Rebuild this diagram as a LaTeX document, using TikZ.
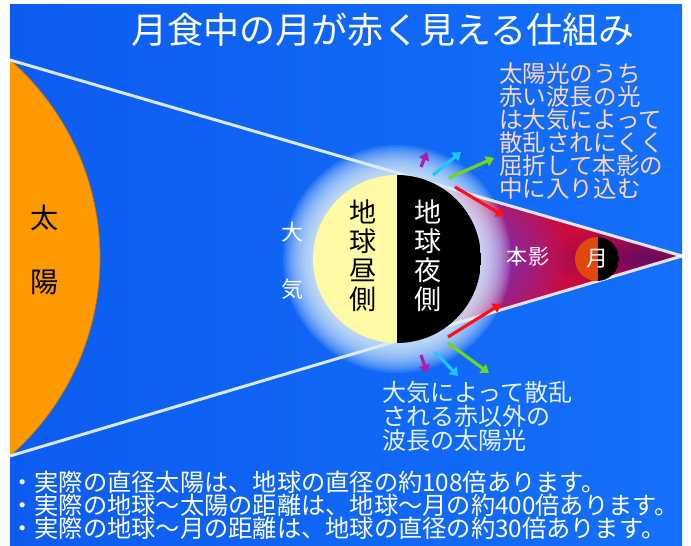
\documentclass[tikz,border=0pt]{standalone}
\usepackage{fontspec}
\setmainfont{Noto Sans CJK JP}
\usetikzlibrary{arrows.meta,fadings}

\definecolor{bgleft}{RGB}{12,92,240}
\definecolor{bgright}{RGB}{20,112,250}
\definecolor{sunorange}{RGB}{255,153,0}
\definecolor{dayside}{RGB}{255,250,165}
\definecolor{moonred}{RGB}{225,70,15}
\definecolor{umbra}{RGB}{205,10,60}
\definecolor{umbradark}{RGB}{100,10,100}
\definecolor{umbraviolet}{RGB}{105,55,210}
\definecolor{haloblue}{RGB}{225,242,255}
\definecolor{peach}{RGB}{255,214,190}
\definecolor{paleblue}{RGB}{228,242,255}
\definecolor{arrpurple}{RGB}{170,30,170}
\definecolor{arrcyan}{RGB}{30,200,255}
\definecolor{arrgreen}{RGB}{110,215,30}
\definecolor{arrred}{RGB}{255,15,25}

\tikzfading[name=fadeout, inner color=transparent!0, outer color=transparent!100]

\begin{document}
\begin{tikzpicture}[x=0.02cm, y=-0.02cm,
  ray/.style={white, opacity=0.85, line width=1.7pt},
  light/.style={-{Triangle[length=4.5pt,width=6pt]}, line width=1.8pt},
  jtext/.style={inner sep=0pt, align=left},
  vtext/.style={inner sep=0pt, align=center}]
  \useasboundingbox (0,0) rectangle (691,546);

  % Background and sun
  \coordinate (sun) at (-163,258);
  \coordinate (earth) at (397,259);
  \coordinate (moon) at (597,259);
  \coordinate (sunTop) at (10,60);
  \coordinate (sunBot) at (10,456);
  \coordinate (apex) at (682,256);
  \begin{scope}
    \clip (10,5) rectangle (682,546);
    \shade[left color=bgleft, right color=bgright] (10,5) rectangle (682,546);
    \fill[sunorange, draw=sunorange!75!black, line width=0.4pt] (sun) circle (263);

    % Umbra behind the earth
    \begin{scope}
      \clip (397,174) -- (apex) -- (397,342) -- cycle;
      \fill[umbra] (397,174) -- (apex) -- (397,342) -- cycle;
      \fill[umbradark, path fading=fadeout] (645,258) ellipse (100 and 34);
      \fill[umbraviolet, path fading=fadeout] (478,258) circle (92);
    \end{scope}

    % Rays from the sun
    \draw[ray] (sunTop) -- (apex);
    \draw[ray] (sunBot) -- (apex);
  \end{scope}

  % Earth with its atmosphere
  \foreach \r in {86,88,...,114}
    \fill[haloblue, opacity=0.11] (earth) circle (\r);
  \begin{scope}
    \clip (earth) circle (84);
    \fill[dayside] (313,175) rectangle (397,343);
    \fill[black] (397,175) rectangle (481,343);
  \end{scope}

  % Moon
  \begin{scope}
    \clip (moon) circle (22);
    \fill[moonred] (575,237) rectangle (598,281);
    \fill[black] (598,237) rectangle (619,281);
  \end{scope}

  % Scattered and refracted light
  \coordinate (p1s) at (421,167); \coordinate (p1e) at (427,152);
  \coordinate (c1s) at (433,175); \coordinate (c1e) at (461,152);
  \coordinate (g1s) at (449,178); \coordinate (g1e) at (494,158);
  \coordinate (r1s) at (455,187); \coordinate (r1e) at (504,216);
  \coordinate (r2s) at (448,337); \coordinate (r2e) at (501,304);
  \coordinate (p2s) at (421,355); \coordinate (p2e) at (427,373);
  \coordinate (c2s) at (435,352); \coordinate (c2e) at (458,376);
  \coordinate (g2s) at (448,343); \coordinate (g2e) at (489,373);
  \draw[light, arrpurple] (p1s) -- (p1e);
  \draw[light, arrcyan] (c1s) -- (c1e);
  \draw[light, arrgreen] (g1s) -- (g1e);
  \draw[light, arrred] (r1s) -- (r1e);
  \draw[light, arrred] (r2s) -- (r2e);
  \draw[light, arrpurple] (p2s) -- (p2e);
  \draw[light, arrcyan] (c2s) -- (c2e);
  \draw[light, arrgreen] (g2s) -- (g2e);

  % Labels
  \node[text=white, font=\fontsize{20.5}{20.5}\selectfont] (title) at (383,30) {月食中の月が赤く見える仕組み};
  \node[vtext, font=\fontsize{16}{36.4}\selectfont] (sunname) at (45,250) {太\\陽};
  \node[vtext, text=white, font=\fontsize{12.5}{32.4}\selectfont] (air) at (292,261) {大\\気};
  \node[vtext, font=\fontsize{15.4}{16.5}\selectfont] (day) at (363,256) {地\\球\\昼\\側};
  \node[vtext, text=white, font=\fontsize{15.4}{16.5}\selectfont] (night) at (428,256) {地\\球\\夜\\側};
  \node[text=white, inner sep=0pt, font=\fontsize{12}{12}\selectfont] (shadow) at (528,257) {本影};
  \node[text=white, inner sep=0pt, font=\fontsize{12.5}{12.5}\selectfont] (moonname) at (moon) {月};
  \node[jtext, anchor=west, text=peach, font=\fontsize{13.4}{13.1}\selectfont] (redlight) at (499,131)
    {太陽光のうち\\赤い波長の光\\は大気によって\\散乱されにくく\\屈折して本影の\\中に入り込む};
  \node[jtext, anchor=west, text=paleblue, font=\fontsize{13.7}{13.6}\selectfont] (otherlight) at (382,416)
    {大気によって散乱\\される赤以外の\\波長の太陽光};
  \node[jtext, anchor=west, text=white, font=\fontsize{13.8}{13.1}\selectfont] (facts) at (10,505)
    {・実際の直径太陽は、地球の直径の約108倍あります。\\
     ・実際の地球～太陽の距離は、地球～月の約400倍あります。\\
     ・実際の地球～月の距離は、地球の直径の約30倍あります。};
\end{tikzpicture}
\end{document}
